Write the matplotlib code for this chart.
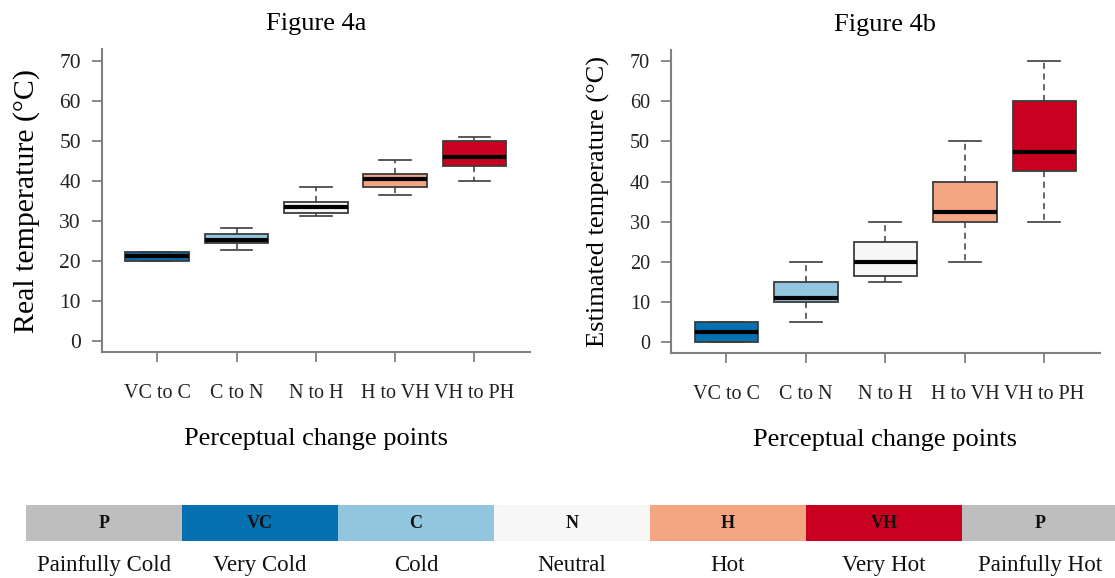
import matplotlib
matplotlib.use("Agg")
import matplotlib.pyplot as plt

plt.rcParams['font.family'] = ['Liberation Serif', 'DejaVu Serif']

categories = ["VC to C", "C to N", "N to H", "H to VH", "VH to PH"]
box_colors = ["#0571b0", "#92c5de", "#f7f7f7", "#f4a582", "#ca0020"]

# Figure 4a: real temperature
real_whislo = [20.0, 22.6, 31.2, 36.4, 40.0]
real_q1     = [20.0, 24.5, 31.9, 38.5, 43.8]
real_med    = [21.2, 25.1, 33.4, 40.5, 46.0]
real_q3     = [22.2, 26.8, 34.8, 41.8, 49.8]
real_whishi = [22.2, 28.3, 38.5, 45.1, 51.0]

# Figure 4b: estimated temperature
est_whislo = [0.0, 5.0, 15.0, 20.0, 30.0]
est_q1     = [0.0, 10.0, 16.5, 30.0, 42.6]
est_med    = [2.5, 11.0, 20.0, 32.4, 47.5]
est_q3     = [5.0, 15.0, 25.0, 40.0, 60.0]
est_whishi = [5.0, 20.0, 30.0, 50.0, 70.0]

yticks = [0, 10, 20, 30, 40, 50, 60, 70]

legend_codes = ["P", "VC", "C", "N", "H", "VH", "P"]
legend_names = ["Painfully Cold", "Very Cold", "Cold", "Neutral", "Hot", "Very Hot", "Painfully Hot"]
legend_colors = ["#bebebe", "#0571b0", "#92c5de", "#f7f7f7", "#f4a582", "#ca0020", "#bebebe"]

W, H = 1115, 578
fig = plt.figure(figsize=(W / 100, H / 100), dpi=100)

axis_grey = "#808080"
edge = "#3c3c3c"


def panel(rect, lo, q1, med, q3, hi, title, ylabel, ylabel_size, tick_size, ylabel_pad):
    ax = fig.add_axes(rect)
    stats = []
    for i in range(len(categories)):
        stats.append(dict(whislo=lo[i], q1=q1[i], med=med[i], q3=q3[i],
                          whishi=hi[i], fliers=[], label=categories[i]))
    pos = list(range(1, len(categories) + 1))
    bp = ax.bxp(stats, positions=pos, widths=0.8, patch_artist=True,
                showfliers=False, capwidths=0.4,
                boxprops=dict(edgecolor=edge, linewidth=1.3),
                whiskerprops=dict(color=edge, linewidth=1.1, linestyle=(0, (4, 3))),
                capprops=dict(color=edge, linewidth=1.2),
                medianprops=dict(color="black", linewidth=3.0, solid_capstyle="butt"))
    for patch, c in zip(bp['boxes'], box_colors):
        patch.set_facecolor(c)
    ax.set_xlim(0.3, 5.7)
    ax.set_ylim(-2.8, 72.8)
    ax.set_yticks(yticks)
    ax.set_yticklabels([str(v) for v in yticks])
    ax.set_xticks(pos)
    ax.set_xticklabels(categories)
    for s in ["top", "right"]:
        ax.spines[s].set_visible(False)
    for s in ["left", "bottom"]:
        ax.spines[s].set_color(axis_grey)
        ax.spines[s].set_linewidth(1.5)
    ax.tick_params(axis="both", direction="out", length=7, width=1.3, color=axis_grey,
                   labelcolor="#222222")
    ax.tick_params(axis="x", pad=16, labelsize=14.5)
    ax.tick_params(axis="y", pad=8, labelsize=tick_size)
    ax.set_title(title, fontsize=19, pad=14)
    ax.set_ylabel(ylabel, fontsize=ylabel_size, labelpad=ylabel_pad)
    ax.set_xlabel("Perceptual change points", fontsize=19, labelpad=18)
    return ax


panel([101.7 / W, 1 - 352.3 / H, 428.3 / W, 303 / H],
      real_whislo, real_q1, real_med, real_q3, real_whishi,
      "Figure 4a", "Real temperature (°C)", 21.5, 15.5, 14)
panel([670.7 / W, 1 - 353.3 / H, 429.3 / W, 303.3 / H],
      est_whislo, est_q1, est_med, est_q3, est_whishi,
      "Figure 4b", "Estimated temperature (°C)", 19, 14.5, 14)

# Legend colour bar
seg = 156.0
lax = fig.add_axes([26 / W, 1 - 541 / H, seg * len(legend_codes) / W, 36 / H])
for i, (code, c) in enumerate(zip(legend_codes, legend_colors)):
    lax.bar(i + 0.5, 1, width=1.0, bottom=0, color=c, edgecolor="none")
    lax.text(i + 0.5, 0.5, code, ha="center", va="center", fontsize=13,
             fontweight="bold", color="#111111")
lax.set_xlim(0, len(legend_codes))
lax.set_ylim(0, 1)
lax.axis("off")
for i, name in enumerate(legend_names):
    fig.text((26 + seg * (i + 0.5)) / W, 1 - 571 / H, name, ha="center", va="baseline",
             fontsize=16.5, color="#111111")

fig.savefig("out.png", dpi=100)
